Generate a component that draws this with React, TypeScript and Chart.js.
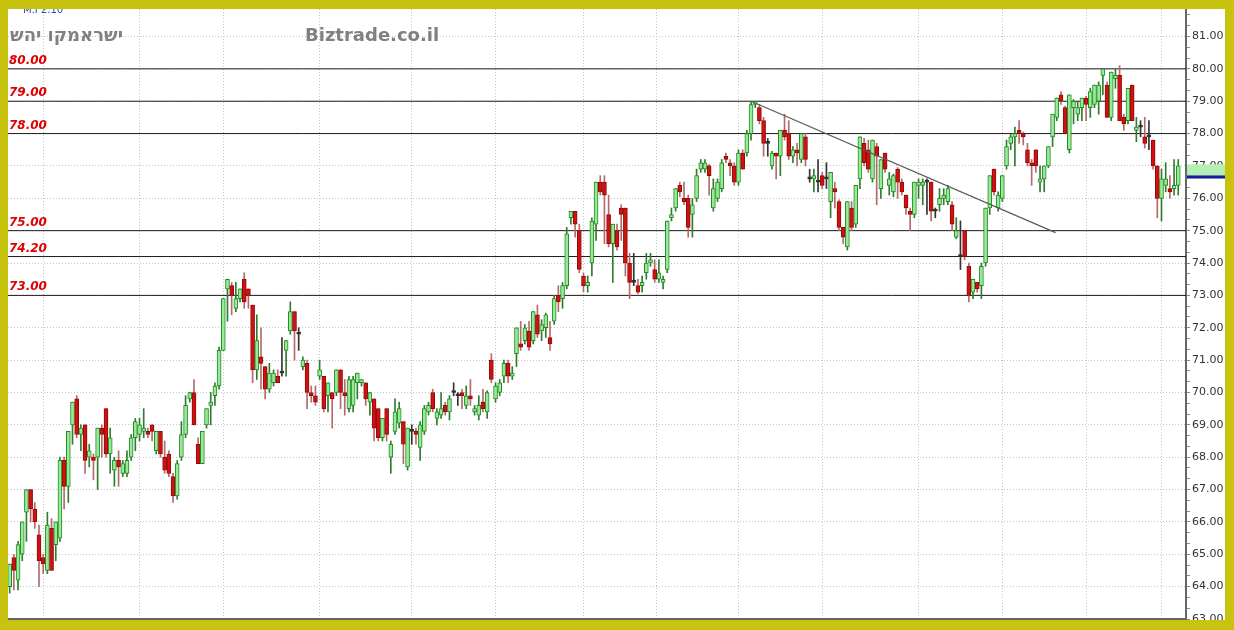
import React, { useEffect, useRef } from 'react';
import { Chart, registerables } from 'chart.js';

Chart.register(...registerables);

// ---- Data (daily candles) ----
const opens = [
  64.0, 64.9, 64.2, 65.0, 66.3, 67.0, 66.4, 65.6, 64.9, 64.5,
  65.8, 65.3, 65.5, 67.9, 67.1, 69.0, 69.8, 68.7, 69.0, 68.0,
  68.0, 68.0, 68.9, 69.5, 68.1, 67.6, 67.9, 67.5, 67.5, 68.0,
  68.6, 68.7, 68.8, 68.8, 69.0, 68.2, 68.8, 68.0, 68.1, 67.4,
  66.8, 68.0, 68.7, 69.8, 70.0, 68.4, 67.8, 69.0, 69.6, 69.9,
  70.2, 71.3, 73.2, 73.3, 72.6, 72.9, 73.5, 73.2, 72.7, 70.7,
  71.1, 70.8, 70.1, 70.3, 70.5, 70.6, 71.3, 71.9, 72.5, 71.8,
  70.8, 70.9, 70.0, 69.9, 70.5, 70.5, 69.9, 70.0, 70.0, 70.7,
  70.0, 69.5, 69.6, 70.3, 70.3, 70.3, 69.7, 69.8, 69.5, 68.6,
  69.5, 68.0, 68.8, 69.05, 69.1, 67.7, 68.8, 68.8, 68.3, 68.8,
  69.4, 70.0, 69.2, 69.3, 69.6, 69.4, 70.0, 69.9, 70.0, 69.6,
  69.9, 69.4, 69.3, 69.7, 69.4, 71.0, 69.8, 70.0, 70.5, 70.9,
  70.5, 71.2, 71.5, 71.6, 71.9, 71.6, 72.4, 71.9, 72.0, 71.7,
  72.2, 73.0, 72.9, 73.3, 75.4, 75.6, 75.0, 73.6, 73.3, 74.0,
  75.2, 76.5, 76.5, 75.5, 74.6, 75.0, 75.7, 75.7, 74.0, 73.4,
  73.3, 73.3, 73.7, 74.0, 73.8, 73.5, 73.4, 73.8, 75.4, 75.7,
  76.4, 76.0, 76.0, 75.5, 76.0, 76.9, 76.9, 77.0, 75.7, 76.0,
  76.3, 77.3, 77.1, 77.0, 76.5, 77.4, 77.4, 78.0, 78.9, 78.8,
  78.4, 77.7, 77.0, 77.4, 77.3, 78.1, 78.0, 77.3, 77.5, 77.2,
  77.9, 76.6, 76.6, 76.5, 76.7, 76.6, 75.9, 76.3, 75.9, 75.1,
  74.5, 75.7, 75.2, 76.6, 77.7, 77.5, 76.6, 77.6, 76.3, 77.4,
  76.4, 76.2, 76.9, 76.5, 76.1, 75.6, 75.5, 76.4, 76.4, 76.5,
  76.5, 75.6, 75.8, 76.0, 75.9, 75.8, 74.8, 74.2, 75.0, 73.9,
  73.1, 73.4, 73.3, 74.0, 75.7, 76.9, 75.7, 76.0, 77.0, 77.7,
  77.9, 78.1, 78.0, 77.5, 77.1, 77.5, 76.5, 76.6, 77.0, 77.9,
  78.5, 79.2, 78.8, 77.5, 78.8, 78.6, 78.8, 79.1, 78.8, 78.9,
  79.0, 79.8, 79.5, 78.5, 79.7, 79.8, 78.5, 78.4, 79.5, 78.1,
  78.2, 77.9, 77.9, 77.8, 77.0, 76.0, 76.4, 76.3, 76.3, 76.4,
];

const highs = [
  64.7, 65.0, 65.4, 66.0, 67.0, 67.0, 66.6, 65.9, 65.0, 66.3,
  66.1, 66.0, 68.0, 68.0, 68.8, 69.7, 69.9, 69.0, 69.0, 68.4,
  68.1, 68.9, 69.0, 69.5, 68.9, 68.0, 68.2, 67.9, 68.2, 68.7,
  69.2, 69.2, 69.5, 68.9, 69.0, 68.8, 68.8, 68.5, 68.2, 67.5,
  67.9, 69.1, 69.9, 70.0, 70.4, 68.6, 68.8, 69.5, 70.0, 70.3,
  71.4, 72.9, 73.5, 73.4, 73.4, 73.2, 73.7, 73.2, 72.7, 72.4,
  72.0, 70.8, 70.9, 70.7, 70.7, 71.7, 71.6, 72.8, 72.5, 72.0,
  71.1, 71.0, 70.2, 70.2, 71.0, 70.5, 70.3, 70.0, 70.7, 70.7,
  70.4, 70.5, 70.5, 70.6, 70.4, 70.3, 70.0, 69.8, 69.5, 69.2,
  69.5, 68.5, 69.8, 69.7, 69.1, 68.9, 69.0, 68.9, 69.1, 69.6,
  69.7, 70.1, 69.5, 70.0, 69.7, 69.9, 70.3, 70.0, 70.1, 70.2,
  70.4, 69.6, 69.9, 70.1, 70.05, 71.2, 70.3, 70.4, 71.0, 71.0,
  70.8, 72.0, 72.2, 72.1, 72.2, 72.5, 72.7, 72.25, 72.45, 72.2,
  73.0, 73.3, 73.4, 75.1, 75.6, 75.6, 75.2, 73.7, 73.6, 75.4,
  76.5, 76.7, 76.7, 76.1, 75.2, 75.2, 75.8, 75.7, 74.3, 74.3,
  73.5, 73.6, 74.3, 74.3, 74.1, 74.1, 73.6, 75.3, 75.7, 76.3,
  76.5, 76.5, 76.1, 76.0, 76.9, 77.2, 77.2, 77.05, 76.6, 76.6,
  77.2, 77.4, 77.2, 77.1, 77.5, 77.5, 78.1, 79.0, 79.0, 78.9,
  78.5, 77.85, 77.45, 77.4, 78.1, 78.6, 78.4, 77.6, 77.7, 78.0,
  78.0, 76.9, 76.9, 77.2, 76.8, 77.1, 76.8, 76.5, 75.95, 75.1,
  75.9, 75.9, 76.4, 77.9, 77.85, 77.8, 77.8, 77.7, 77.2, 77.4,
  76.8, 76.75, 76.95, 76.6, 76.1, 75.7, 76.5, 76.6, 76.6, 76.6,
  76.5, 75.7, 76.3, 76.3, 76.4, 75.9, 75.4, 75.3, 75.0, 74.0,
  73.5, 73.4, 74.0, 75.7, 76.7, 76.9, 76.2, 76.7, 77.8, 78.0,
  78.2, 78.4, 78.05, 77.7, 77.2, 77.5, 77.0, 77.0, 77.6, 78.6,
  79.1, 79.3, 78.85, 79.2, 79.05, 79.0, 79.1, 79.15, 79.4, 79.5,
  79.6, 80.0, 79.6, 79.9, 80.0, 80.1, 78.6, 79.4, 79.5, 78.5,
  78.4, 78.5, 78.4, 77.8, 77.0, 76.9, 77.1, 76.7, 77.2, 77.2,
];

const lows = [
  63.8, 63.9, 63.9, 64.8, 65.4, 66.0, 65.8, 64.0, 64.4, 64.4,
  64.5, 64.8, 65.4, 66.4, 66.6, 68.4, 68.6, 68.2, 67.5, 67.7,
  67.3, 67.0, 68.0, 68.0, 67.5, 67.1, 67.1, 67.4, 67.4, 67.9,
  68.2, 68.5, 68.6, 68.6, 68.5, 68.1, 68.0, 67.5, 67.4, 66.6,
  66.7, 67.9, 68.6, 69.7, 69.0, 67.8, 67.8, 68.9, 69.0, 69.6,
  70.1, 71.3, 72.2, 72.4, 72.5, 72.8, 72.6, 72.6, 70.3, 70.4,
  70.1, 69.8, 70.0, 70.2, 70.3, 70.5, 70.5, 71.8, 71.0, 71.3,
  70.7, 69.5, 69.7, 69.6, 70.4, 69.4, 69.4, 68.9, 69.9, 69.5,
  69.3, 69.4, 69.4, 69.8, 70.2, 69.6, 69.3, 68.5, 68.5, 68.5,
  68.5, 67.5, 68.7, 68.9, 67.8, 67.6, 68.4, 68.4, 67.9, 68.7,
  69.3, 69.4, 69.0, 69.2, 69.3, 69.15, 69.9, 69.6, 69.5, 69.5,
  69.6, 69.3, 69.15, 69.4, 69.2, 70.3, 69.7, 69.9, 70.3, 70.3,
  70.4, 70.8, 71.3, 71.5, 71.3, 71.5, 71.7, 71.6, 71.7, 71.3,
  72.1, 72.5, 72.6, 73.2, 75.2, 74.8, 73.7, 73.1, 73.1, 73.6,
  74.7, 76.1, 74.6, 74.5, 73.4, 74.4, 74.7, 73.6, 72.9, 73.3,
  73.05, 73.1, 73.5, 73.9, 73.4, 73.4, 73.2, 73.7, 75.3, 75.6,
  76.05, 75.8, 74.8, 74.8, 75.9, 76.8, 76.8, 76.1, 75.6, 75.9,
  76.2, 77.1, 76.7, 76.4, 76.4, 76.9, 77.3, 77.8, 78.8, 78.3,
  77.3, 77.3, 76.9, 76.6, 76.7, 77.8, 77.2, 77.1, 77.0, 77.1,
  77.0, 76.5, 76.2, 76.2, 76.3, 76.3, 75.4, 75.7, 75.0, 74.6,
  74.4, 75.0, 75.1, 76.3, 77.0, 76.8, 76.5, 75.8, 76.0, 76.8,
  76.1, 76.05, 76.0, 76.1, 75.5, 75.0, 75.4, 76.0, 75.8, 75.5,
  75.3, 75.4, 75.6, 75.8, 75.8, 75.0, 74.75, 73.8, 74.1, 72.8,
  72.9, 73.1, 72.9, 73.9, 75.5, 76.1, 75.6, 75.9, 76.9, 77.5,
  77.0, 77.7, 77.65, 77.0, 76.4, 76.8, 76.2, 76.2, 76.95, 77.6,
  78.4, 78.9, 78.0, 77.4, 78.3, 78.4, 78.4, 78.4, 78.5, 78.8,
  78.6, 79.2, 78.5, 78.4, 79.4, 78.4, 78.1, 78.3, 78.4, 77.75,
  77.9, 77.55, 77.5, 76.9, 75.4, 75.3, 76.2, 76.0, 76.1, 76.1,
];

const closes = [
  64.7, 64.5, 65.3, 66.0, 67.0, 66.4, 66.0, 64.8, 64.7, 65.9,
  64.5, 66.0, 67.9, 67.1, 68.8, 69.7, 68.7, 68.9, 67.9, 68.2,
  67.9, 68.9, 68.7, 68.1, 68.6, 67.9, 67.7, 67.8, 67.9, 68.6,
  69.1, 69.0, 68.9, 68.7, 68.8, 68.8, 68.1, 67.6, 67.5, 66.8,
  67.8, 68.7, 69.6, 70.0, 69.0, 67.8, 68.8, 69.5, 69.7, 70.2,
  71.3, 72.9, 73.5, 73.0, 72.9, 73.2, 72.8, 73.0, 70.7, 71.6,
  70.9, 70.1, 70.6, 70.6, 70.3, 70.6, 71.6, 72.5, 71.9, 71.8,
  71.0, 70.0, 69.9, 69.7, 70.7, 69.5, 70.3, 69.8, 70.7, 70.0,
  69.9, 70.4, 70.4, 70.6, 70.4, 69.8, 70.0, 68.9, 68.6, 69.2,
  68.7, 68.4, 69.4, 69.5, 68.4, 68.9, 68.8, 68.7, 69.0, 69.5,
  69.6, 69.5, 69.4, 69.5, 69.4, 69.8, 70.0, 69.9, 69.9, 69.9,
  69.8, 69.5, 69.6, 69.5, 70.0, 70.4, 70.2, 70.3, 70.9, 70.5,
  70.6, 72.0, 71.4, 72.0, 71.4, 72.5, 71.8, 72.1, 72.4, 71.5,
  72.9, 72.8, 73.3, 74.9, 75.6, 75.2, 73.8, 73.3, 73.4, 75.3,
  76.5, 76.2, 76.1, 74.6, 75.2, 74.5, 75.5, 74.0, 73.4, 73.4,
  73.1, 73.4, 74.0, 74.1, 73.5, 73.7, 73.5, 75.3, 75.5, 76.3,
  76.2, 75.9, 75.1, 75.8, 76.7, 77.1, 77.1, 76.7, 76.3, 76.5,
  77.1, 77.2, 77.0, 76.5, 77.4, 76.9, 78.0, 78.9, 79.0, 78.4,
  77.7, 77.7, 77.4, 77.3, 78.1, 77.9, 77.3, 77.5, 77.4, 78.0,
  77.2, 76.6, 76.7, 76.5, 76.4, 76.6, 76.8, 76.2, 75.1, 74.8,
  75.9, 75.1, 76.4, 77.9, 77.1, 76.9, 77.8, 77.3, 77.2, 76.9,
  76.6, 76.7, 76.5, 76.2, 75.7, 75.5, 76.5, 76.5, 76.5, 76.5,
  75.6, 75.6, 76.0, 76.1, 76.3, 75.2, 75.0, 74.2, 74.2, 73.0,
  73.5, 73.2, 73.9, 75.7, 76.7, 76.2, 76.1, 76.7, 77.6, 77.9,
  78.0, 78.0, 77.9, 77.1, 77.0, 77.0, 76.6, 77.0, 77.6, 78.6,
  79.1, 79.0, 78.0, 79.2, 79.0, 78.8, 79.1, 78.9, 79.3, 79.5,
  79.5, 80.0, 78.5, 79.9, 79.8, 78.4, 78.3, 79.4, 78.4, 78.2,
  78.2, 77.7, 77.9, 77.0, 76.0, 76.6, 76.6, 76.2, 76.4, 77.0,
];

// horizontal support / resistance levels
const levels = [80, 79, 78, 75, 74.2, 73];
const levelLabels = ['80.00', '79.00', '78.00', '75.00', '74.20', '73.00'];

// month separators (candle index positions)
const monthBreaks = [8, 31, 51, 74, 96, 116, 137, 154.5, 174, 194, 217, 237, 257, 275];

// trend line (candle index, price)
const trendX = [177, 249.7];
const trendY = [79.0, 74.94];

// last price marker on the axis
const lastPrice = 76.66;
const markerBoxTop = 77.05;
const markerBoxBottom = 76.6;

const titleText = 'ישראמקו יהש';
const siteText = 'Biztrade.co.il';
const cornerText = 'M.I 2.10';

const yMin = 63;
const yMax = 81.85;
const xMin = -0.4;
const xMax = 280.85;

const isInt = (v: number) => Math.abs(v - Math.round(v)) < 1e-6;

export default function App() {
  const ref = useRef<HTMLCanvasElement | null>(null);

  useEffect(() => {
    if (!ref.current) return;
    const n = opens.length;
    const idx = Array.from({ length: n }, (_, i) => i);
    const isDoji = (i: number) => Math.abs(closes[i] - opens[i]) < 0.03;
    const isUp = (i: number) => closes[i] > opens[i];

    const bodyData = idx.map((i) => ({
      x: i,
      y: [Math.min(opens[i], closes[i]), Math.max(opens[i], closes[i])],
    }));
    const wickData = idx.map((i) => ({ x: i, y: [lows[i], highs[i]] }));
    const bodyFill = idx.map((i) => (isDoji(i) ? '#333333' : isUp(i) ? '#98ea98' : '#d21010'));
    const bodyBorder = idx.map((i) => (isDoji(i) ? '#333333' : isUp(i) ? '#228b22' : '#8c0c0c'));
    const wickColor = idx.map((i) => (isDoji(i) ? '#333333' : isUp(i) ? '#2e7d2e' : '#b46a6a'));

    const yTicks: number[] = [];
    for (let k = 0; k <= 56; k++) yTicks.push(yMin + k / 3);

    const levelSets = levels.map((lv) => ({
      type: 'line' as const,
      data: [
        { x: xMin, y: lv },
        { x: xMax, y: lv },
      ],
      borderColor: '#1a1a1a',
      borderWidth: 1,
      pointRadius: 0,
      order: 5,
    }));

    const overlay = {
      id: 'overlay',
      beforeDraw(chart: any) {
        const c = chart.ctx;
        c.save();
        c.fillStyle = '#ffffff';
        c.fillRect(0, 0, chart.width, chart.height);
        c.restore();
      },
      afterDraw(chart: any) {
        const c = chart.ctx;
        const ys = chart.scales.y;
        const area = chart.chartArea;
        c.save();
        // red level labels
        c.font = 'italic bold 12px "DejaVu Sans"';
        c.fillStyle = '#e00000';
        c.textAlign = 'left';
        c.textBaseline = 'alphabetic';
        levels.forEach((lv, i) => {
          c.fillText(levelLabels[i], area.left + 1, ys.getPixelForValue(lv) - 5);
        });
        // watermarks
        c.font = 'bold 18px "DejaVu Sans"';
        c.fillStyle = '#808080';
        c.fillText(titleText, 10, 41);
        c.fillText(siteText, 305, 41);
        // last price marker on axis
        const yTop = ys.getPixelForValue(markerBoxTop);
        const yBot = ys.getPixelForValue(markerBoxBottom);
        c.fillStyle = '#b4f0b4';
        c.fillRect(area.right + 1, yTop, 38, yBot - yTop);
        c.fillStyle = '#1a1aa0';
        const yp = ys.getPixelForValue(lastPrice);
        c.fillRect(area.right + 1, yp - 1.5, 38, 3);
        // corner text
        c.font = '10px "DejaVu Sans"';
        c.fillStyle = '#2a4aa8';
        c.fillText(cornerText, 23, 12.5);
        // olive frame
        c.fillStyle = '#c7c30f';
        c.fillRect(0, 0, chart.width, 9);
        c.fillRect(0, 620, chart.width, chart.height - 620);
        c.fillRect(0, 0, 8, chart.height);
        c.fillRect(1225, 0, chart.width - 1225, chart.height);
        c.restore();
      },
    };

    const chart = new Chart(ref.current, {
      type: 'bar',
      data: {
        datasets: [
          {
            type: 'line',
            data: [
              { x: trendX[0], y: trendY[0] },
              { x: trendX[1], y: trendY[1] },
            ],
            borderColor: '#5a5a5a',
            borderWidth: 1.2,
            pointRadius: 0,
            order: 0,
          } as any,
          {
            type: 'bar',
            data: bodyData as any,
            backgroundColor: bodyFill,
            borderColor: bodyBorder,
            borderWidth: 1,
            borderSkipped: false,
            barThickness: 4,
            minBarLength: 2,
            grouped: false,
            order: 1,
          } as any,
          {
            type: 'bar',
            data: wickData as any,
            backgroundColor: wickColor,
            borderWidth: 0,
            barThickness: 1,
            grouped: false,
            order: 2,
          } as any,
          ...(levelSets as any[]),
        ],
      },
      options: {
        animation: false,
        responsive: false,
        devicePixelRatio: 1,
        layout: { padding: { left: 8, top: 9, right: 9, bottom: 11 } },
        plugins: {
          legend: { display: false },
          tooltip: { enabled: false },
        },
        scales: {
          x: {
            type: 'linear',
            min: xMin,
            max: xMax,
            offset: false,
            afterBuildTicks: (s: any) => {
              s.ticks = monthBreaks.map((v) => ({ value: v }));
            },
            afterFit: (s: any) => {
              s.height = 0;
            },
            ticks: { display: false },
            grid: { color: '#c4c4c4', lineWidth: 1, drawTicks: false, offset: false },
            border: { display: true, color: '#666666', width: 2, dash: [1, 2] },
          },
          y: {
            type: 'linear',
            position: 'right',
            min: yMin,
            max: yMax,
            afterBuildTicks: (s: any) => {
              s.ticks = yTicks.map((v) => ({ value: v }));
            },
            afterFit: (s: any) => {
              s.width = 39;
            },
            ticks: {
              autoSkip: false,
              color: '#333333',
              padding: 2,
              font: { size: 11, family: '"DejaVu Sans"' },
              callback: (v: any) => (isInt(Number(v)) ? Number(v).toFixed(2) : ''),
            },
            grid: {
              color: (ctx: any) =>
                ctx.tick && isInt(ctx.tick.value) ? '#c4c4c4' : 'rgba(0,0,0,0)',
              tickColor: '#888888',
              tickLength: 4,
              drawTicks: true,
            },
            border: { display: true, color: '#666666', width: 2, dash: [1, 2] },
          },
        },
      } as any,
      plugins: [overlay],
    });

    return () => chart.destroy();
  }, []);

  return (
    <div style={{ position: 'fixed', left: 0, top: 0, width: 1234, height: 630 }}>
      <canvas ref={ref} width={1234} height={630} style={{ display: 'block' }} />
    </div>
  );
}
